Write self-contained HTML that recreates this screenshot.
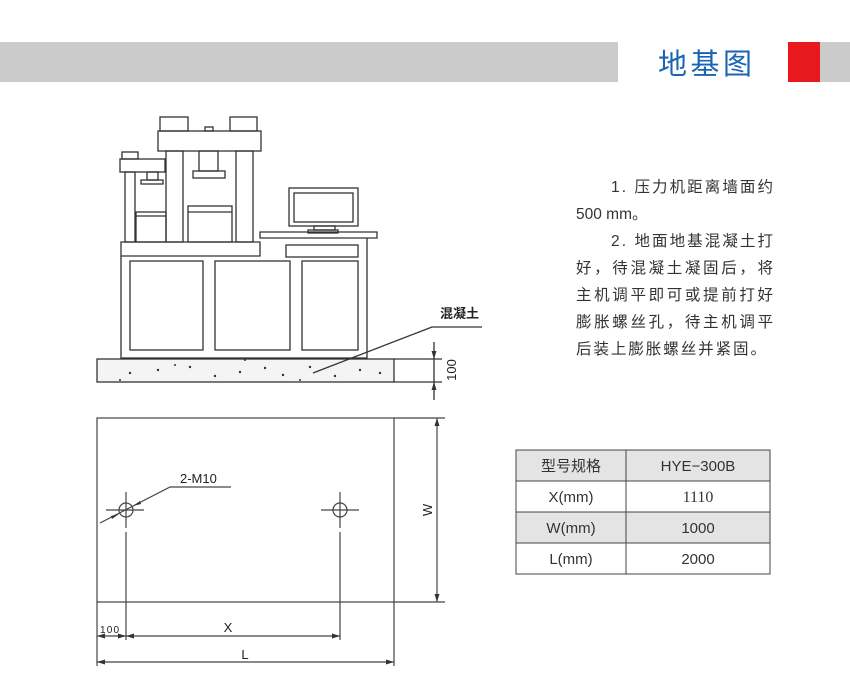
<!DOCTYPE html>
<html><head><meta charset="utf-8"><style>
html,body{margin:0;padding:0;background:#fff;}
svg{display:block;}
.t{font-family:"Liberation Sans","Noto Sans CJK SC",sans-serif;}
</style></head><body>
<svg width="850" height="700" viewBox="0 0 850 700" xmlns="http://www.w3.org/2000/svg">
<!-- header -->
<rect x="0" y="42" width="618" height="40" fill="#cbcbcb"/>
<text x="705" y="74" class="t" font-size="29" fill="#1a64b4" text-anchor="middle" textLength="94">地基图</text>
<rect x="788" y="42" width="32" height="40" fill="#e8191c"/>
<rect x="820" y="42" width="30" height="40" fill="#cbcbcb"/>

<g fill="none" stroke="#333" stroke-width="1.3">
<!-- big machine -->
<rect x="160" y="117" width="28" height="14"/>
<rect x="230" y="117" width="27" height="14"/>
<rect x="205" y="127" width="8" height="4"/>
<rect x="158" y="131" width="103" height="20"/>
<rect x="166" y="151" width="17" height="91"/>
<rect x="236" y="151" width="17" height="91"/>
<rect x="199" y="151" width="19" height="20"/>
<rect x="193" y="171" width="32" height="7"/>
<rect x="188" y="206" width="44" height="36"/>
<line x1="188" y1="212" x2="232" y2="212"/>
<!-- small machine -->
<rect x="122" y="152" width="16" height="7"/>
<rect x="120" y="159" width="45" height="13"/>
<rect x="125" y="172" width="10" height="70"/>
<rect x="147" y="172" width="11" height="8"/>
<rect x="141" y="180" width="22" height="4"/>
<rect x="136" y="212" width="30" height="30"/>
<line x1="136" y1="216" x2="166" y2="216"/>
<!-- cabinet -->
<path d="M121 242 H260 V256 H121 Z"/>
<path d="M260 238 H377 V232 H260 Z"/>
<path d="M121 256 V358 H367 V238"/>
<rect x="286" y="245" width="72" height="12"/>
<rect x="130" y="261" width="73" height="89"/>
<rect x="215" y="261" width="75" height="89"/>
<rect x="302" y="261" width="56" height="89"/>
<!-- monitor -->
<rect x="289" y="188" width="69" height="38"/>
<rect x="294" y="193" width="59" height="29"/>
<rect x="314" y="226" width="21" height="4"/>
<rect x="308" y="230" width="30" height="3"/>
<!-- slab -->
<rect x="97" y="359" width="297" height="23" fill="#f4f4f4"/>
<line x1="394" y1="359" x2="442" y2="359"/>
<line x1="394" y1="382" x2="442" y2="382"/>
<line x1="434" y1="342" x2="434" y2="400"/>
<path d="M313 373 L432 327 H482"/>
</g>
<g fill="#333">
<path d="M434 359 l-2.5 -8 h5 z"/><path d="M434 382 l-2.5 8 h5 z"/>
<circle cx="130" cy="373" r="1.2"/><circle cx="158" cy="370" r="1.2"/><circle cx="190" cy="367" r="1.2"/><circle cx="215" cy="376" r="1.2"/><circle cx="240" cy="372" r="1.2"/><circle cx="265" cy="368" r="1.2"/><circle cx="283" cy="375" r="1.2"/><circle cx="310" cy="367" r="1.2"/><circle cx="335" cy="376" r="1.2"/><circle cx="360" cy="370" r="1.2"/><circle cx="380" cy="373" r="1.2"/><circle cx="120" cy="380" r="1"/><circle cx="245" cy="360" r="1"/><circle cx="300" cy="380" r="1"/><circle cx="175" cy="365" r="1"/>
</g>
<text x="440" y="318" class="t" font-size="13" font-weight="bold" fill="#222">混凝土</text>
<text transform="translate(456,370) rotate(-90)" class="t" font-size="13" fill="#222" text-anchor="middle">100</text>

<!-- plan -->
<g fill="none" stroke="#444" stroke-width="1.2">
<rect x="97" y="418" width="297" height="184"/>
<line x1="394" y1="418" x2="445" y2="418"/>
<line x1="394" y1="602" x2="445" y2="602"/>
<line x1="437" y1="418" x2="437" y2="602"/>
<circle cx="126" cy="510" r="7"/>
<circle cx="340" cy="510" r="7"/>
<line x1="106" y1="510" x2="144" y2="510"/><line x1="126" y1="492" x2="126" y2="528"/>
<line x1="321" y1="510" x2="359" y2="510"/><line x1="340" y1="492" x2="340" y2="528"/>
<line x1="126" y1="532" x2="126" y2="640"/>
<line x1="340" y1="532" x2="340" y2="640"/>
<line x1="97" y1="602" x2="97" y2="666"/>
<line x1="394" y1="602" x2="394" y2="666"/>
<line x1="97" y1="636" x2="340" y2="636"/>
<line x1="97" y1="662" x2="394" y2="662"/>
<path d="M100 523 L170 487 H231"/>
</g>
<g fill="#333">
<path d="M437 418 l-2.5 8 h5 z"/><path d="M437 602 l-2.5 -8 h5 z"/>
<path d="M97 662 l8 -2.5 v5 z"/><path d="M394 662 l-8 -2.5 v5 z"/>
<path d="M340 636 l-8 -2.5 v5 z"/><path d="M126 636 l-8 -2.5 v5 z"/><path d="M126 636 l8 -2.5 v5 z"/><path d="M97 636 l8 -2.5 v5 z"/>
<path d="M133 506 l7 -5 l1 3 z"/><path d="M119 514 l-7 5 l-1 -3 z"/>
</g>
<text x="180" y="483" class="t" font-size="13" fill="#222">2-M10</text>
<text x="228" y="632" class="t" font-size="13" fill="#222" text-anchor="middle">X</text>
<text x="245" y="659" class="t" font-size="13" fill="#222" text-anchor="middle">L</text>
<text x="100" y="633" class="t" font-size="10" fill="#222" textLength="19">100</text>
<text transform="translate(432,510) rotate(-90)" class="t" font-size="13" fill="#222" text-anchor="middle">W</text>

<!-- paragraph -->
<g class="t" font-size="15.5" fill="#333">
<text x="611" y="192" textLength="162">1. 压力机距离墙面约</text>
<text x="576" y="219">500 mm。</text>
<text x="611" y="246" textLength="162">2. 地面地基混凝土打</text>
<text x="576" y="273" textLength="197">好，待混凝土凝固后，将</text>
<text x="576" y="300" textLength="197">主机调平即可或提前打好</text>
<text x="576" y="327" textLength="197">膨胀螺丝孔，待主机调平</text>
<text x="576" y="354" textLength="190">后装上膨胀螺丝并紧固。</text>
</g>

<!-- table -->
<rect x="516" y="450" width="254" height="31" fill="#e4e4e4"/>
<rect x="516" y="512" width="254" height="31" fill="#e4e4e4"/>
<g stroke="#444" stroke-width="1" fill="none">
<rect x="516" y="450" width="254" height="124"/>
<line x1="516" y1="481" x2="770" y2="481"/>
<line x1="516" y1="512" x2="770" y2="512"/>
<line x1="516" y1="543" x2="770" y2="543"/>
<line x1="626" y1="450" x2="626" y2="574"/>
</g>
<g class="t" font-size="15" fill="#333" text-anchor="middle">
<text x="571" y="471">型号规格</text>
<text x="698" y="471">HYE−300B</text>
<text x="571" y="502">X(mm)</text>
<text x="698" y="502" font-family="Liberation Serif,serif" font-size="16">1110</text>
<text x="571" y="533">W(mm)</text>
<text x="698" y="533">1000</text>
<text x="571" y="564">L(mm)</text>
<text x="698" y="564">2000</text>
</g>
</svg>
</body></html>
